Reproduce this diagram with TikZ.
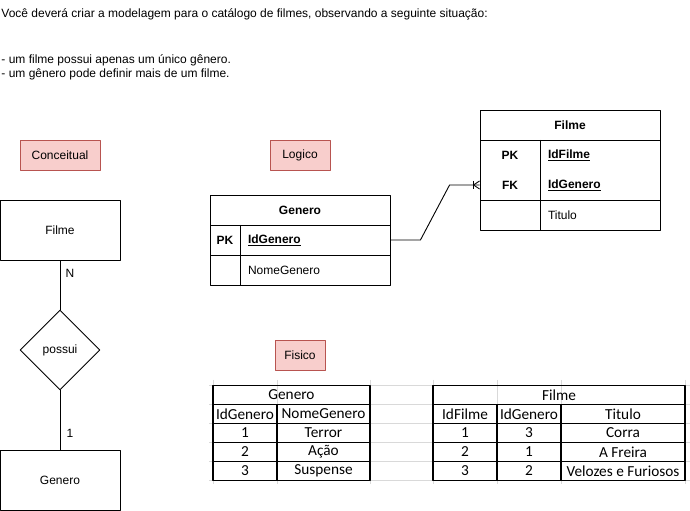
\documentclass[tikz,border=0pt]{standalone}
\usepackage{fontspec}
\setmainfont{Liberation Sans}
\newfontfamily\xlfont{Carlito}
\usetikzlibrary{shapes.geometric}
\definecolor{notefill}{HTML}{F8CECC}
\definecolor{notedraw}{HTML}{B85450}
\definecolor{gridgray}{HTML}{D9D9D9}
\begin{document}
\begin{tikzpicture}[>=latex,line join=bevel,line width=0.9bp,
  font=\fontsize{12bp}{14bp}\selectfont,
  note/.style={draw=notedraw,fill=notefill,minimum height=30bp,inner sep=0pt},
  entity/.style={draw,minimum width=120bp,minimum height=60bp},
  rel/.style={draw,diamond,aspect=1,minimum width=80bp,minimum height=80bp,inner sep=0pt},
  fld/.style={text width=#1,align=left,inner xsep=8bp,inner ysep=0pt,minimum height=30bp},
  key/.style={minimum width=60bp,minimum height=30bp,inner sep=0pt,font=\fontsize{12bp}{14bp}\selectfont\bfseries},
  xcell/.style={draw,line width=1.2bp,minimum width=#1,minimum height=19bp,inner sep=0pt,
    font=\xlfont\fontsize{15.3bp}{17bp}\selectfont},
  grid/.style={draw=gridgray,line width=0.8bp}]
\useasboundingbox (0bp,0bp) rectangle (690bp,511bp);
%%
\node (intro_1) at (1bp,493.7bp) [anchor=base west,inner sep=0pt] {Você deverá criar a modelagem para o catálogo de filmes, observando a seguinte situação:};
  \node (intro_2) at (1bp,447.7bp) [anchor=base west,inner sep=0pt] {- um filme possui apenas um único gênero.};
  \node (intro_3) at (1bp,433.3bp) [anchor=base west,inner sep=0pt] {- um gênero pode definir mais de um filme.};
%% conceitual
\node (tag_conc) at (60bp,356bp) [note,minimum width=80bp] {Conceitual};
  \node (c_filme) at (60bp,281bp) [entity] {Filme};
  \node (c_possui) at (60bp,161bp) [rel] {possui};
  \node (c_genero) at (60bp,31bp) [entity] {Genero};
  \draw (c_filme) -- (c_possui);
  \draw (c_possui) -- (c_genero);
  \node (c_card_n) at (70bp,238bp) {N};
  \node (c_card_1) at (70bp,78bp) {1};
%% logico
\node (tag_log) at (300bp,356bp) [note,minimum width=60bp] {Logico};
  \draw (210bp,316bp) rectangle (390bp,226bp);
  \draw (210bp,286bp) -- (390bp,286bp);
  \draw (210bp,256bp) -- (390bp,256bp);
  \draw (240bp,286bp) -- (240bp,226bp);
  \node (lg_head) at (300bp,301bp) [font=\fontsize{12bp}{14bp}\selectfont\bfseries] {Genero};
  \node (lg_pkkey) at (225bp,271bp) [key,minimum width=30bp] {PK};
  \node (lg_pk) at (315bp,271bp) [fld=134bp] {\textbf{\underline{IdGenero}}};
  \node (lg_nome) at (315bp,241bp) [fld=134bp] {NomeGenero};
%
\draw (480bp,401bp) rectangle (660bp,281bp);
  \draw (480bp,371bp) -- (660bp,371bp);
  \draw (480bp,311bp) -- (660bp,311bp);
  \draw (540bp,371bp) -- (540bp,281bp);
  \node (lf_head) at (570bp,386bp) [font=\fontsize{12bp}{14bp}\selectfont\bfseries] {Filme};
  \node (lf_pkkey) at (510bp,356bp) [key] {PK};
  \node (lf_fkkey) at (510bp,326bp) [key] {FK};
  \node (lf_id) at (600bp,356bp) [fld=104bp] {\textbf{\underline{IdFilme}}};
  \node (lf_idg) at (600bp,326bp) [fld=104bp] {\textbf{\underline{IdGenero}}};
  \node (lf_tit) at (600bp,296bp) [fld=104bp] {Titulo};
%
\draw (lg_pk.east) -- ++(30bp,0bp) -- ([xshift=-30bp]lf_fkkey.west) -- (lf_fkkey.west);
  \draw ([xshift=-6.5bp,yshift=4bp]lf_fkkey.west) -- ([xshift=-6.5bp,yshift=-4bp]lf_fkkey.west);
  \draw ([yshift=4bp]lf_fkkey.west) -- ([xshift=-6bp]lf_fkkey.west) -- ([yshift=-4bp]lf_fkkey.west);
%% fisico
\node (tag_fis) at (300bp,156bp) [note,minimum width=50bp] {Fisico};
  \draw [grid] (209bp,125.5bp) -- (690bp,125.5bp);
  \draw [grid] (209bp,106.5bp) -- (690bp,106.5bp);
  \draw [grid] (209bp,87.5bp) -- (690bp,87.5bp);
  \draw [grid] (209bp,68.5bp) -- (690bp,68.5bp);
  \draw [grid] (209bp,49.5bp) -- (690bp,49.5bp);
  \draw [grid] (209bp,30.5bp) -- (690bp,30.5bp);
  \draw [grid] (213bp,131bp) -- (213bp,27bp);
  \draw [grid] (277bp,131bp) -- (277bp,27bp);
  \draw [grid] (370bp,131bp) -- (370bp,27bp);
  \draw [grid] (433bp,131bp) -- (433bp,27bp);
  \draw [grid] (497bp,131bp) -- (497bp,27bp);
  \draw [grid] (561bp,131bp) -- (561bp,27bp);
  \draw [grid] (685bp,131bp) -- (685bp,27bp);
%
\node (fg_head) at (291.5bp,116bp) [xcell=157bp] {Genero};
  \node (fg_c1) at (245bp,97bp) [xcell=64bp] {IdGenero};
  \node (fg_c2) at (323.5bp,97bp) [xcell=93bp] {NomeGenero};
  \node (fg_r1a) at (245bp,78bp) [xcell=64bp] {1};
  \node (fg_r1b) at (323.5bp,78bp) [xcell=93bp] {Terror};
  \node (fg_r2a) at (245bp,59bp) [xcell=64bp] {2};
  \node (fg_r2b) at (323.5bp,59bp) [xcell=93bp] {Ação};
  \node (fg_r3a) at (245bp,40bp) [xcell=64bp] {3};
  \node (fg_r3b) at (323.5bp,40bp) [xcell=93bp] {Suspense};
%
\node (ff_head) at (559bp,116bp) [xcell=252bp] {Filme};
  \node (ff_c1) at (465bp,97bp) [xcell=64bp] {IdFilme};
  \node (ff_c2) at (529bp,97bp) [xcell=64bp] {IdGenero};
  \node (ff_c3) at (623bp,97bp) [xcell=124bp] {Titulo};
  \node (ff_r1a) at (465bp,78bp) [xcell=64bp] {1};
  \node (ff_r1b) at (529bp,78bp) [xcell=64bp] {3};
  \node (ff_r1c) at (623bp,78bp) [xcell=124bp] {Corra};
  \node (ff_r2a) at (465bp,59bp) [xcell=64bp] {2};
  \node (ff_r2b) at (529bp,59bp) [xcell=64bp] {1};
  \node (ff_r2c) at (623bp,59bp) [xcell=124bp] {A Freira};
  \node (ff_r3a) at (465bp,40bp) [xcell=64bp] {3};
  \node (ff_r3b) at (529bp,40bp) [xcell=64bp] {2};
  \node (ff_r3c) at (623bp,40bp) [xcell=124bp] {Velozes e Furiosos};
%
\end{tikzpicture}
\end{document}
